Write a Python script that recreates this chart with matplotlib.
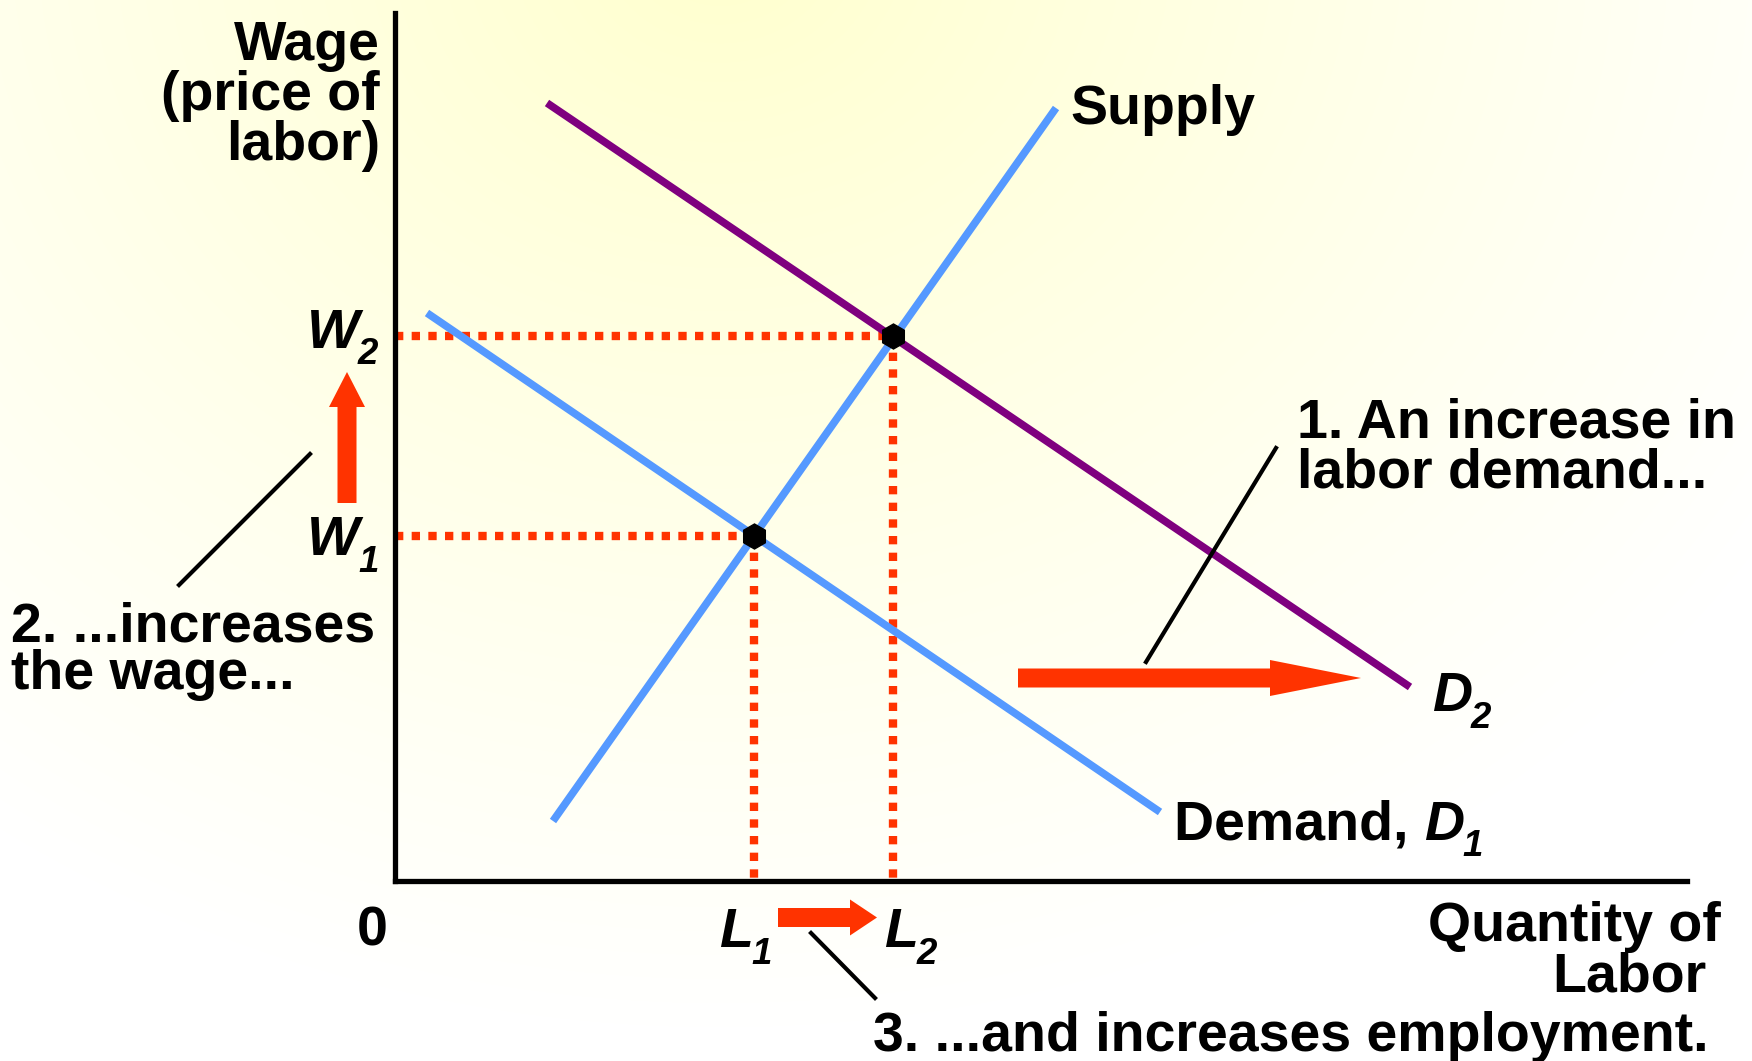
import numpy as np
import matplotlib.pyplot as plt
from matplotlib.patches import FancyArrow

plt.rcParams["font.family"] = ["Liberation Sans", "DejaVu Sans"]
plt.rcParams["font.weight"] = "bold"

# curves (quantity, wage) endpoints
supply_q = [15.8, 66.1]
supply_w = [6.0, 77.3]
demand1_q = [3.2, 76.5]
demand1_w = [56.8, 6.9]
demand2_q = [15.2, 101.5]
demand2_w = [77.8, 19.4]

# equilibria
eq_q = [35.9, 49.8]
eq_w = [34.5, 54.5]
eq_sub = ["1", "2"]

RED = "#FF3300"
BLUE = "#5599FF"
PURPLE = "#7F007F"
FS = 40

W, H = 1752, 1061
fig = plt.figure(figsize=(W / 100, H / 100), dpi=100)

# background gradient
bg = fig.add_axes([0, 0, 1, 1])
yy, xx = np.mgrid[0:H, 0:W]
r = np.hypot(xx - 720, (yy + 60) * 1.15)
t = np.clip(r / 1250, 0, 1) ** 0.9
img = np.ones((H, W, 3))
img[..., 2] = (205 + 50 * t) / 255
bg.imshow(img, aspect="auto", extent=[0, W, H, 0])
bg.axis("off")

ax = fig.add_axes([395 / W, (H - 881) / H, 1292 / W, 868 / H])
ax.patch.set_alpha(0)
ax.set_xlim(0, 129.2)
ax.set_ylim(0, 86.8)
for s in ["top", "right"]:
    ax.spines[s].set_visible(False)
for s in ["left", "bottom"]:
    ax.spines[s].set_linewidth(3.8)
    ax.spines[s].set_capstyle("projecting")
ax.set_xticks([])
ax.set_yticks([])

dots = dict(color=RED, lw=6, linestyle=(0, (1, 1.0)), dash_capstyle="butt")
for q, w in zip(eq_q, eq_w):
    ax.plot([0, q], [w, w], **dots)
    ax.plot([q, q], [w, 0], **dots)

ax.plot(demand2_q, demand2_w, color=PURPLE, lw=5.5, solid_capstyle="butt")
ax.plot(demand1_q, demand1_w, color=BLUE, lw=5.5, solid_capstyle="butt")
ax.plot(supply_q, supply_w, color=BLUE, lw=5.5, solid_capstyle="butt")
ax.plot(eq_q, eq_w, "h", color="black", ms=18, zorder=5)

# arrows
arrows = [
    (-4.8, 37.8, 0, 13.1, 3.5),
    (62.3, 20.3, 34.3, 0, 9.1),
    (38.3, -3.65, 9.9, 0, 2.7),
]
for x0, y0, dx, dy, hl in arrows:
    ax.add_patch(FancyArrow(x0, y0, dx, dy, width=1.9, head_width=3.6,
                            head_length=hl, length_includes_head=True,
                            color=RED, lw=0, clip_on=False))

# leader lines
leaders = [
    ([88.1, 75.1], [43.3, 21.9]),
    ([-8.5, -21.6], [42.7, 29.6]),
    ([41.6, 48.0], [-5.2, -11.7]),
]
for lq, lw_ in leaders:
    ax.plot(lq, lw_, color="black", lw=3, clip_on=False)

txt = dict(fontsize=FS, fontweight="bold", va="baseline")
renderer = fig.canvas.get_renderer()


def sub_label(x, y, letter, digit, prefix=None):
    if prefix:
        t0 = ax.text(x, y, prefix, ha="left", **txt)
        right = t0.get_window_extent(renderer).x1
        x = ax.transData.inverted().transform((right, 0))[0]
    t1 = ax.text(x, y, letter, ha="left", fontstyle="italic", **txt)
    ax.annotate(digit, xy=(1, 0), xycoords=t1, xytext=(-1, -9),
                textcoords="offset points", ha="left", va="bottom",
                fontsize=FS * 0.66, fontweight="bold", fontstyle="italic")


ax.text(-1.5, 82.1, "Wage", ha="right", **txt)
ax.text(-1.5, 77.1, "(price of", ha="right", **txt)
ax.text(-1.5, 72.1, "labor)", ha="right", **txt)
sub_label(-8.8, 53.3, "W", eq_sub[1])
sub_label(-8.8, 32.6, "W", eq_sub[0])
sub_label(32.4, -6.6, "L", eq_sub[0])
sub_label(48.9, -6.6, "L", eq_sub[1])
ax.text(-2.3, -6.5, "0", ha="center", **txt)
ax.text(132.6, -6.0, "Quantity of", ha="right", **txt)
ax.text(131.1, -11.0, "Labor", ha="right", **txt)
ax.text(67.5, 75.7, "Supply", ha="left", **txt)
ax.text(90.2, 44.3, "1. An increase in", ha="left", **txt)
ax.text(90.2, 39.4, "labor demand...", ha="left", **txt)
sub_label(103.7, 17.0, "D", "2")
sub_label(77.9, 4.1, "D", "1", prefix="Demand, ")
ax.text(-38.4, 23.9, "2. ...increases", ha="left", **txt)
ax.text(-38.4, 19.2, "the wage...", ha="left", **txt)
ax.text(47.8, -17.0, "3. ...and increases employment.", ha="left", **txt)

fig.savefig("out.png", dpi=100)
